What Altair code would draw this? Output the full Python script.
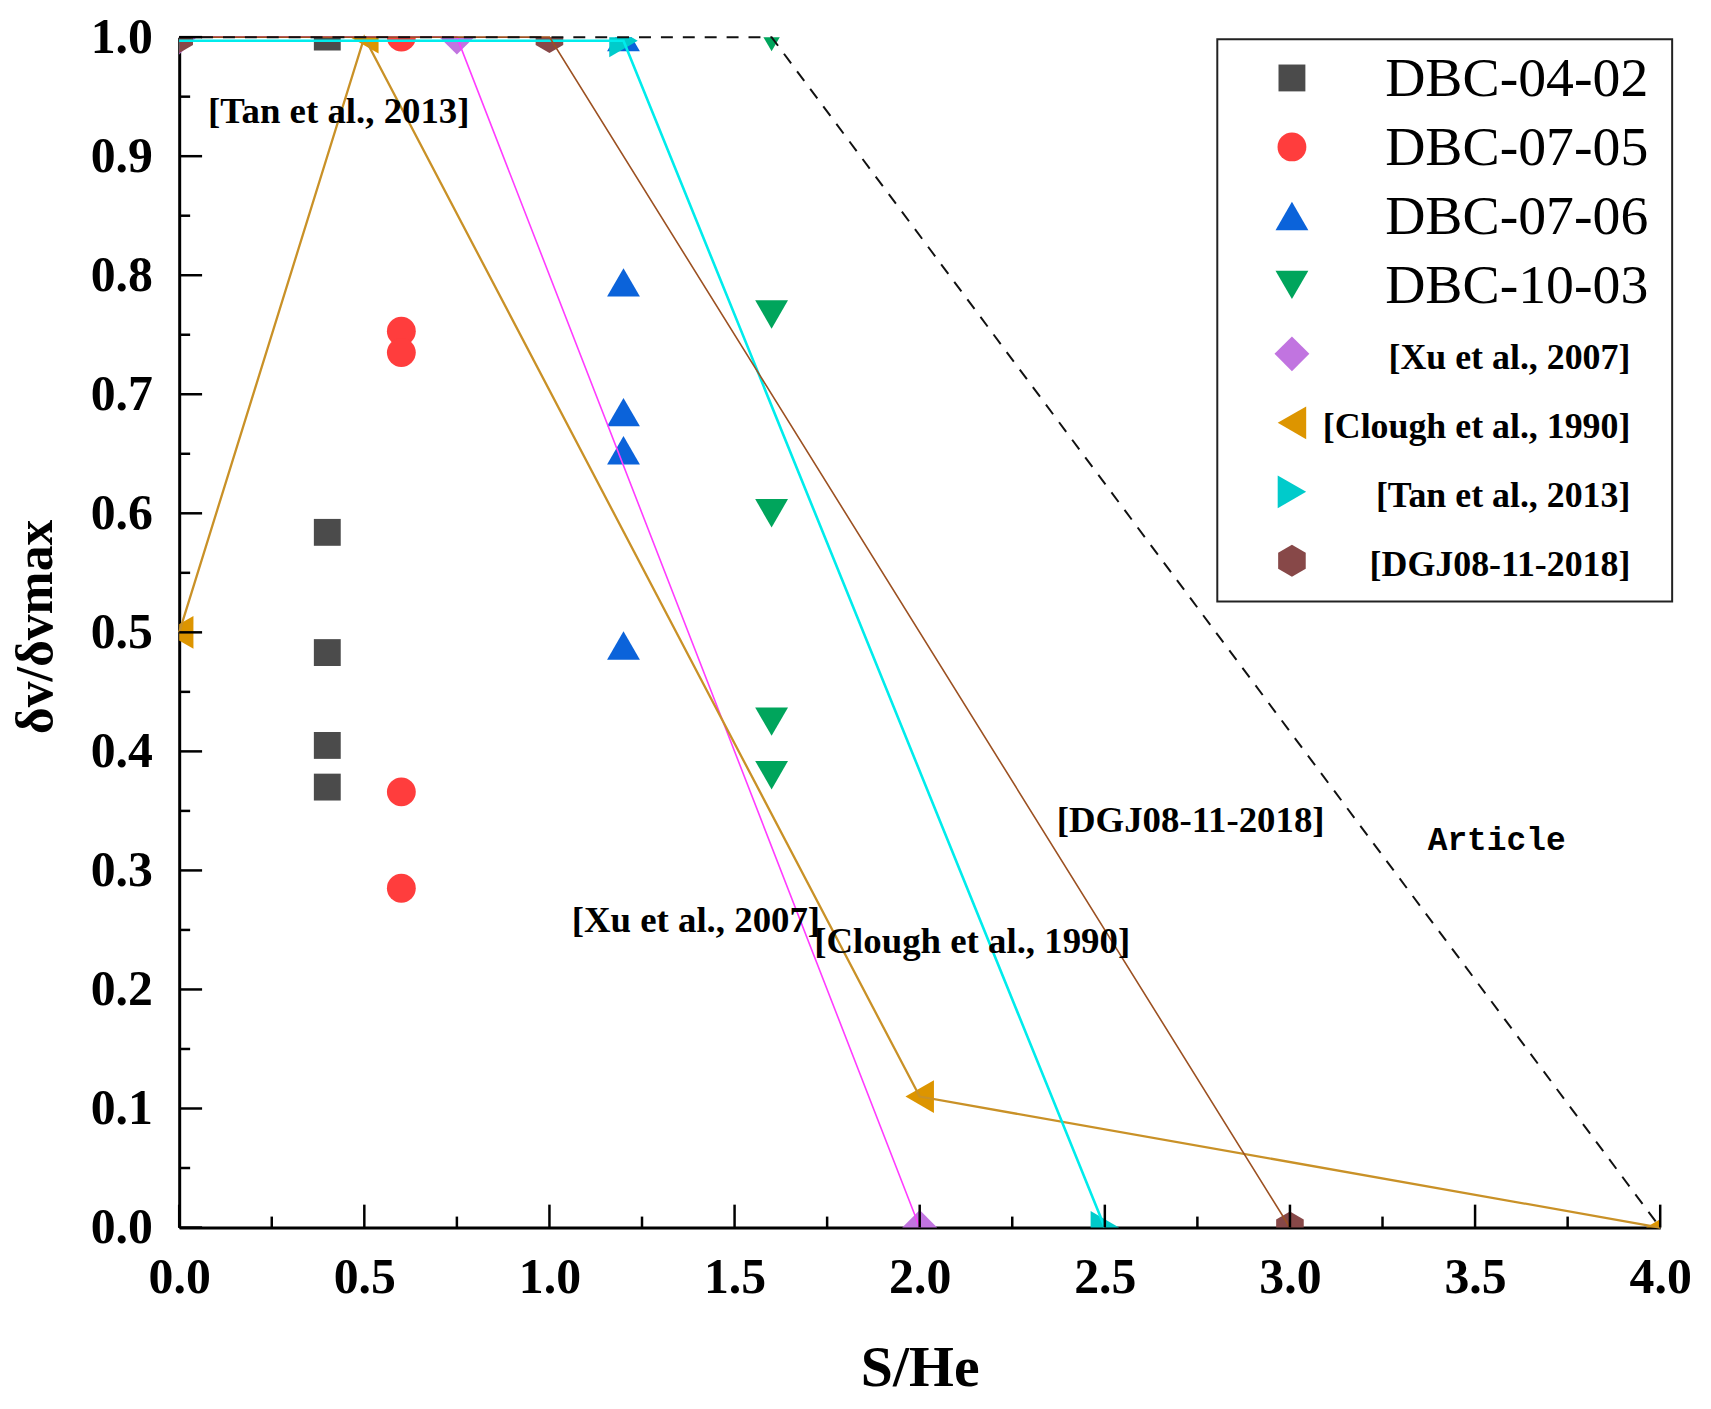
import altair as alt
import pandas as pd

W, H = 1488, 1196
SERIF = "Liberation Serif"

# ---------------- data ----------------
# experimental series (S/He, dv/dvmax)
dbc0402_x = [0.4, 0.4, 0.4, 0.4, 0.4]
dbc0402_y = [1.0, 0.584, 0.483, 0.405, 0.370]
dbc0705_x = [0.6, 0.6, 0.6, 0.6, 0.6]
dbc0705_y = [1.0, 0.753, 0.735, 0.366, 0.285]
dbc0706_x = [1.2, 1.2, 1.2, 1.2, 1.2]
dbc0706_y = [1.0, 0.794, 0.685, 0.653, 0.489]
dbc1003_x = [1.6, 1.6, 1.6, 1.6, 1.6]
dbc1003_y = [1.0, 0.767, 0.600, 0.425, 0.380]

# reference envelopes
xu_x = [0.0, 0.75, 2.0]
xu_y = [1.0, 1.0, 0.0]
clough_x = [0.0, 0.5, 2.0, 4.0]
clough_y = [0.5, 1.0, 0.11, 0.0]
tan_x = [0.0, 1.2, 2.5]
tan_y = [0.997, 0.997, 0.0]
dgj_x = [0.0, 1.0, 3.0]
dgj_y = [1.0, 1.0, 0.0]
article_x = [0.0, 1.6, 4.0]
article_y = [1.0, 1.0, 0.0]

# annotations
ann_text = ["[Tan et al., 2013]", "[Xu et al., 2007]", "[Clough et al., 1990]", "[DGJ08-11-2018]"]
ann_x = [0.078, 1.06, 1.715, 2.37]
ann_y = [0.928, 0.248, 0.231, 0.3325]
article_label = ["Article"]
article_lx = [3.372]
article_ly = [0.317]

# axis ticks
x_major = [0.0, 0.5, 1.0, 1.5, 2.0, 2.5, 3.0, 3.5, 4.0]
x_minor = [0.25, 0.75, 1.25, 1.75, 2.25, 2.75, 3.25, 3.75]
y_major = [0.0, 0.1, 0.2, 0.3, 0.4, 0.5, 0.6, 0.7, 0.8, 0.9, 1.0]
y_minor = [0.05, 0.15, 0.25, 0.35, 0.45, 0.55, 0.65, 0.75, 0.85, 0.95]

# legend entries
legend_names = ["DBC-04-02", "DBC-07-05", "DBC-07-06", "DBC-10-03",
                "[Xu et al., 2007]", "[Clough et al., 1990]", "[Tan et al., 2013]", "[DGJ08-11-2018]"]

HEX = "M0,-1L0.866,-0.5L0.866,0.5L0,1L-0.866,0.5L-0.866,-0.5Z"
styles = {
    "DBC-04-02": dict(shape="square", color="#4b4b4b", size=729),
    "DBC-07-05": dict(shape="circle", color="#ff3d3d", size=841),
    "DBC-07-06": dict(shape="triangle-up", color="#0b63da", size=1089),
    "DBC-10-03": dict(shape="triangle-down", color="#00a55c", size=1089),
    "[Xu et al., 2007]": dict(shape="diamond", color="#c174e0", size=1225),
    "[Clough et al., 1990]": dict(shape="triangle-left", color="#dd9500", size=1089),
    "[Tan et al., 2013]": dict(shape="triangle-right", color="#00cbcb", size=1089),
    "[DGJ08-11-2018]": dict(shape=HEX, color="#874848", size=1024),
}
line_styles = {
    "[Xu et al., 2007]": dict(color="#ff3cff", w=1.6),
    "[Clough et al., 1990]": dict(color="#c99127", w=2.3),
    "[Tan et al., 2013]": dict(color="#00ecec", w=2.6),
    "[DGJ08-11-2018]": dict(color="#9c5122", w=1.6),
}

point_series = [
    ("DBC-04-02", dbc0402_x, dbc0402_y),
    ("DBC-07-05", dbc0705_x, dbc0705_y),
    ("DBC-07-06", dbc0706_x, dbc0706_y),
    ("DBC-10-03", dbc1003_x, dbc1003_y),
    ("[Xu et al., 2007]", xu_x, xu_y),
    ("[Clough et al., 1990]", clough_x, clough_y),
    ("[Tan et al., 2013]", tan_x, tan_y),
    ("[DGJ08-11-2018]", dgj_x, dgj_y),
]
line_series = [
    ("[Xu et al., 2007]", xu_x, xu_y),
    ("[Clough et al., 1990]", clough_x, clough_y),
    ("[Tan et al., 2013]", tan_x, tan_y),
    ("[DGJ08-11-2018]", dgj_x, dgj_y),
]

xs = alt.Scale(domain=[0, 4], nice=False, zero=False)
ys = alt.Scale(domain=[0, 1], nice=False, zero=False)

x_axis = alt.Axis(values=x_major, format=".1f", ticks=False, grid=False,
                  domainColor="black", domainWidth=3,
                  labelFont=SERIF, labelFontWeight="bold", labelFontSize=50, labelColor="black",
                  labelPadding=65, labelBaseline="alphabetic", labelFlush=False, labelOverlap=False,
                  title="S/He", titleFont=SERIF, titleFontWeight="bold", titleFontSize=58,
                  titleColor="black", titleY=159, titleBaseline="alphabetic")
y_axis = alt.Axis(values=y_major, format=".1f", ticks=False, grid=False,
                  domainColor="black", domainWidth=3,
                  labelFont=SERIF, labelFontWeight="bold", labelFontSize=50, labelColor="black",
                  labelPadding=27, labelAlign="right", labelBaseline="middle",
                  labelFlush=False, labelOverlap=False,
                  title="δv/δvmax", titleFont=SERIF, titleFontWeight="bold", titleFontSize=52,
                  titleColor="black", titleAngle=270, titleX=-128, titleY=H / 2 - 6,
                  titleAlign="center", titleBaseline="alphabetic")


def X(field):
    return alt.X(field, scale=xs, axis=x_axis)


def Y(field):
    return alt.Y(field, scale=ys, axis=y_axis)


layers = []

# markers (drawn first, lines go on top)
for name, xv, yv in point_series:
    st = styles[name]
    df = pd.DataFrame({"x": xv, "y": yv})
    layers.append(
        alt.Chart(df).mark_point(shape=st["shape"], color=st["color"], fill=st["color"],
                                 filled=True, opacity=1, size=st["size"], clip=True)
        .encode(x=X("x:Q"), y=Y("y:Q"))
    )

for name, xv, yv in line_series:
    ls = line_styles[name]
    df = pd.DataFrame({"x": xv, "y": yv})
    layers.append(
        alt.Chart(df).mark_line(color=ls["color"], strokeWidth=ls["w"])
        .encode(x=X("x:Q"), y=Y("y:Q"))
    )

art = pd.DataFrame({"x": article_x, "y": article_y})
layers.append(
    alt.Chart(art).mark_line(color="#111111", strokeWidth=2, strokeDash=[12, 10])
    .encode(x=X("x:Q"), y=Y("y:Q"))
)

# inward ticks
for vals, ln in ((x_major, 23), (x_minor, 11)):
    df = pd.DataFrame({"x": vals})
    layers.append(
        alt.Chart(df).mark_rule(color="black", strokeWidth=2.5)
        .encode(x=X("x:Q"), y=alt.value(H), y2=alt.value(H - ln))
    )
for vals, ln in ((y_major, 23), (y_minor, 11)):
    df = pd.DataFrame({"y": vals})
    layers.append(
        alt.Chart(df).mark_rule(color="black", strokeWidth=2.5)
        .encode(y=Y("y:Q"), x=alt.value(0), x2=alt.value(ln))
    )

# annotations
ann = pd.DataFrame({"t": ann_text, "x": ann_x, "y": ann_y})
layers.append(
    alt.Chart(ann).mark_text(font=SERIF, fontWeight="bold", fontSize=37, color="black",
                             align="left", baseline="alphabetic")
    .encode(x=X("x:Q"), y=Y("y:Q"), text="t:N")
)
artl = pd.DataFrame({"t": article_label, "x": article_lx, "y": article_ly})
layers.append(
    alt.Chart(artl).mark_text(font="Liberation Mono", fontWeight="bold", fontSize=33, color="black",
                              align="left", baseline="alphabetic")
    .encode(x=X("x:Q"), y=Y("y:Q"), text="t:N")
)

# legend box
box = pd.DataFrame({"k": [0]})
layers.append(
    alt.Chart(box).mark_rect(fill="white", stroke="#222222", strokeWidth=2)
    .encode(x=alt.value(1043), x2=alt.value(1500), y=alt.value(2), y2=alt.value(567))
)
for i, name in enumerate(legend_names):
    st = styles[name]
    cy = 41 + 69.3 * i
    row = pd.DataFrame({"t": [name]})
    layers.append(
        alt.Chart(row).mark_point(shape=st["shape"], color=st["color"], fill=st["color"],
                                  filled=True, opacity=1, size=st["size"])
        .encode(x=alt.value(1118), y=alt.value(cy))
    )
    big = i < 4
    layers.append(
        alt.Chart(row).mark_text(font=SERIF, fontWeight="normal" if big else "bold",
                                 fontSize=56 if big else 36, color="black",
                                 align="right", baseline="alphabetic")
        .encode(x=alt.value(1476 if big else 1458), y=alt.value(cy + (18 if big else 15)), text="t:N")
    )

chart = alt.layer(*layers).properties(
    width=W, height=H,
    background="white",
    autosize=alt.AutoSizeParams(type="none"),
    padding={"left": 172, "top": 26, "right": 43, "bottom": 171},
).configure_view(stroke=None)

chart.save("out.html", embed_options={"renderer": "svg", "actions": False})
